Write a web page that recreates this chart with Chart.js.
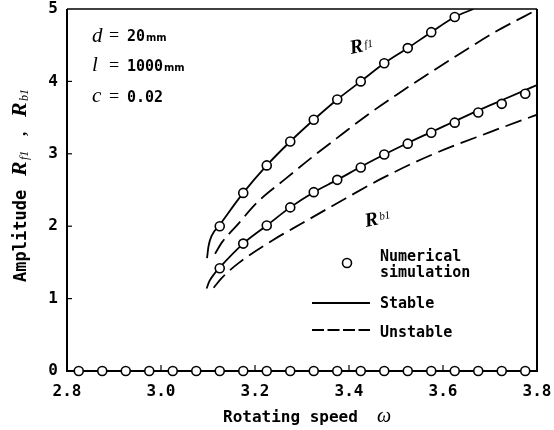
<!DOCTYPE html>
<html>
<head>
<meta charset="utf-8">
<script src="https://cdn.jsdelivr.net/npm/chart.js@4.4.0/dist/chart.umd.min.js"></script>
<style>
  html, body { margin: 0; padding: 0; background: #fff; }
</style>
</head>
<body>
<canvas id="chart" width="554" height="430"></canvas>
<script>
// Puntos de simulacion sobre el eje (amplitud cero)
const zeroSpeed = [2.825, 2.875, 2.925, 2.975, 3.025, 3.075, 3.125, 3.175, 3.225, 3.275,
                   3.325, 3.375, 3.425, 3.475, 3.525, 3.575, 3.625, 3.675, 3.725, 3.775];
const zeroAmp = [0, 0, 0, 0, 0, 0, 0, 0, 0, 0, 0, 0, 0, 0, 0, 0, 0, 0, 0, 0];

// Simulacion numerica R_f1 y R_b1
const rf1SimSpeed = [3.125, 3.175, 3.225, 3.275, 3.325, 3.375, 3.425, 3.475, 3.525, 3.575, 3.625];
const rf1SimAmp = [2.0, 2.46, 2.84, 3.17, 3.47, 3.75, 4.0, 4.25, 4.46, 4.68, 4.89];
const rb1SimSpeed = [3.125, 3.175, 3.225, 3.275, 3.325, 3.375, 3.425, 3.475, 3.525, 3.575,
                     3.625, 3.675, 3.725, 3.775];
const rb1SimAmp = [1.42, 1.76, 2.01, 2.26, 2.47, 2.64, 2.81, 2.99, 3.14, 3.29, 3.43, 3.57, 3.69, 3.83];

// Soluciones estables (linea continua)
const rf1StableSpeed = [3.098, 3.101, 3.108, 3.125, 3.175, 3.225, 3.275, 3.325, 3.375, 3.425,
                        3.475, 3.525, 3.575, 3.625, 3.665];
const rf1StableAmp = [1.56, 1.72, 1.87, 2.02, 2.46, 2.84, 3.17, 3.47, 3.75, 4.0,
                      4.25, 4.46, 4.68, 4.89, 5.0];
const rb1StableSpeed = [3.097, 3.103, 3.112, 3.125, 3.175, 3.225, 3.275, 3.325, 3.375, 3.425,
                        3.475, 3.525, 3.575, 3.625, 3.675, 3.725, 3.775, 3.8];
const rb1StableAmp = [1.14, 1.24, 1.33, 1.43, 1.76, 2.01, 2.26, 2.47, 2.64, 2.82,
                      2.99, 3.15, 3.30, 3.45, 3.60, 3.74, 3.88, 3.95];

// Soluciones inestables (linea discontinua)
const rf1UnstableSpeed = [3.115, 3.13, 3.16, 3.205, 3.266, 3.321, 3.385, 3.44, 3.5, 3.57, 3.64, 3.71, 3.8];
const rf1UnstableAmp = [1.62, 1.78, 2.0, 2.33, 2.66, 2.95, 3.27, 3.54, 3.81, 4.11, 4.40, 4.68, 4.99];
const rb1UnstableSpeed = [3.112, 3.13, 3.167, 3.236, 3.3, 3.37, 3.47, 3.57, 3.7, 3.8];
const rb1UnstableAmp = [1.15, 1.29, 1.50, 1.80, 2.04, 2.30, 2.66, 2.97, 3.30, 3.54];

// Marcas de los ejes
const xTicks = [2.8, 3.0, 3.2, 3.4, 3.6, 3.8];
const yTicks = [0, 1, 2, 3, 4, 5];

const MONO = '"DejaVu Sans Mono", monospace';
const SERIF = '"Liberation Serif", serif';
const COND = '"DejaVu Sans Condensed", "DejaVu Sans", sans-serif';

function toPoints(xs, ys) {
    return xs.map((x, i) => ({ x: x, y: ys[i] }));
}

function simSet(xs, ys) {
    return {
        data: toPoints(xs, ys),
        showLine: false,
        pointRadius: 4.5,
        pointBackgroundColor: '#fff',
        pointBorderColor: '#000',
        pointBorderWidth: 1.6,
        clip: false
    };
}

function curveSet(xs, ys, dashed) {
    return {
        data: toPoints(xs, ys),
        showLine: true,
        pointRadius: 0,
        borderColor: '#000',
        borderWidth: 1.8,
        borderDash: dashed ? [17, 7] : [],
        cubicInterpolationMode: 'monotone',
        fill: false
    };
}

// Texto con varias fuentes en una sola linea
function drawRuns(ctx, x, y, runs) {
    runs.forEach(r => {
        ctx.font = r.font;
        ctx.fillText(r.text, x + (r.dx || 0), y + (r.dy || 0));
    });
}

// quitar el relleno automatico que Chart.js reserva para las etiquetas
function noPad(s) {
    s.paddingTop = 0;
    s.paddingBottom = 0;
    s.paddingLeft = 0;
    s.paddingRight = 0;
}

const framePlugin = {
    id: 'frame',
    beforeDatasetsDraw(chart) {
        const { ctx, chartArea: a, scales } = chart;
        ctx.save();
        ctx.strokeStyle = '#000';
        ctx.lineWidth = 2;
        ctx.beginPath();
        ctx.moveTo(a.left, a.top);
        ctx.lineTo(a.left, a.bottom);
        ctx.lineTo(a.right, a.bottom);
        ctx.lineTo(a.right, a.top);
        ctx.stroke();
        ctx.lineWidth = 1.5;
        ctx.beginPath();
        ctx.moveTo(a.left, a.top);
        ctx.lineTo(a.right, a.top);
        ctx.stroke();

        // marcas interiores
        ctx.lineWidth = 1.2;
        xTicks.slice(1, -1).forEach(v => {
            const px = scales.x.getPixelForValue(v);
            ctx.beginPath();
            ctx.moveTo(px, a.bottom);
            ctx.lineTo(px, a.bottom - 6);
            ctx.stroke();
        });
        yTicks.slice(1, -1).forEach(v => {
            const py = scales.y.getPixelForValue(v);
            ctx.beginPath();
            ctx.moveTo(a.left, py);
            ctx.lineTo(a.left + 5, py);
            ctx.stroke();
        });
        ctx.restore();
    },
    afterDraw(chart) {
        const ctx = chart.ctx;
        ctx.save();
        ctx.fillStyle = '#000';
        ctx.textBaseline = 'alphabetic';
        ctx.textAlign = 'left';

        // parametros
        drawRuns(ctx, 92, 42, [
            { text: 'd', font: 'italic 21px ' + SERIF },
            { text: '=', font: '18px ' + SERIF, dx: 17, dy: -1 },
            { text: '20', font: 'bold 15px ' + MONO, dx: 35, dy: -1 },
            { text: 'mm', font: 'bold 11px ' + COND, dx: 54, dy: -1 }
        ]);
        drawRuns(ctx, 92, 71, [
            { text: 'l', font: 'italic 21px ' + SERIF },
            { text: '=', font: '18px ' + SERIF, dx: 17 },
            { text: '1000', font: 'bold 15px ' + MONO, dx: 35 },
            { text: 'mm', font: 'bold 11px ' + COND, dx: 72 }
        ]);
        drawRuns(ctx, 92, 102, [
            { text: 'c', font: 'italic 21px ' + SERIF },
            { text: '=', font: '18px ' + SERIF, dx: 17 },
            { text: '0.02', font: 'bold 15px ' + MONO, dx: 35 }
        ]);

        // etiquetas de curvas
        ctx.save();
        ctx.translate(351, 54);
        ctx.rotate(-0.2);
        drawRuns(ctx, 0, 0, [
            { text: 'R', font: 'bold italic 20px ' + SERIF },
            { text: 'f1', font: 'italic 11px ' + SERIF, dx: 15, dy: -3 }
        ]);
        ctx.restore();
        ctx.save();
        ctx.translate(366, 227);
        ctx.rotate(-0.2);
        drawRuns(ctx, 0, 0, [
            { text: 'R', font: 'bold italic 20px ' + SERIF },
            { text: 'b1', font: 'italic 11px ' + SERIF, dx: 15, dy: -4 }
        ]);
        ctx.restore();

        // leyenda
        ctx.strokeStyle = '#000';
        ctx.lineWidth = 1.6;
        ctx.fillStyle = '#fff';
        ctx.beginPath();
        ctx.arc(347, 263, 4.5, 0, Math.PI * 2);
        ctx.fill();
        ctx.stroke();
        ctx.fillStyle = '#000';
        ctx.lineWidth = 1.8;
        ctx.beginPath();
        ctx.moveTo(312, 303);
        ctx.lineTo(370, 303);
        ctx.stroke();
        ctx.setLineDash([12, 3.5]);
        ctx.beginPath();
        ctx.moveTo(312, 330);
        ctx.lineTo(370, 330);
        ctx.stroke();
        ctx.setLineDash([]);
        ctx.font = 'bold 15px ' + MONO;
        ctx.fillText('Numerical', 380, 261);
        ctx.fillText('simulation', 380, 277);
        ctx.fillText('Stable', 380, 308);
        ctx.fillText('Unstable', 380, 337);

        // titulo eje x
        drawRuns(ctx, 223, 422, [
            { text: 'Rotating speed', font: 'bold 16px ' + MONO },
            { text: 'ω', font: 'italic 20px ' + SERIF, dx: 154 }
        ]);

        // titulo eje y
        ctx.save();
        ctx.translate(26, 282);
        ctx.rotate(-Math.PI / 2);
        drawRuns(ctx, 0, 0, [
            { text: 'Amplitude', font: 'bold 17px ' + MONO },
            { text: 'R', font: 'bold italic 22px ' + SERIF, dx: 106 },
            { text: 'f1', font: 'italic 12px ' + SERIF, dx: 122, dy: 2 },
            { text: ',', font: 'bold 17px ' + SERIF, dx: 146 },
            { text: 'R', font: 'bold italic 22px ' + SERIF, dx: 165 },
            { text: 'b1', font: 'italic 12px ' + SERIF, dx: 181, dy: 2 }
        ]);
        ctx.restore();

        ctx.restore();
    }
};

const ctx = document.getElementById('chart').getContext('2d');

const chart = new Chart(ctx, {
    type: 'scatter',
    data: {
        datasets: [
            simSet(zeroSpeed, zeroAmp),
            simSet(rf1SimSpeed, rf1SimAmp),
            simSet(rb1SimSpeed, rb1SimAmp),
            curveSet(rf1StableSpeed, rf1StableAmp, false),
            curveSet(rb1StableSpeed, rb1StableAmp, false),
            curveSet(rf1UnstableSpeed, rf1UnstableAmp, true),
            curveSet(rb1UnstableSpeed, rb1UnstableAmp, true)
        ]
    },
    options: {
        responsive: false,
        animation: false,
        layout: { padding: { top: 9, right: 17, left: 0, bottom: 0 } },
        plugins: {
            legend: { display: false },
            tooltip: { enabled: false }
        },
        scales: {
            x: {
                type: 'linear',
                min: 2.8,
                max: 3.8,
                afterFit: s => { s.height = 59; noPad(s); },
                afterBuildTicks: s => { s.ticks = xTicks.map(v => ({ value: v })); },
                ticks: {
                    callback: v => v.toFixed(1),
                    font: { family: MONO, size: 16, weight: 'bold', lineHeight: 1 },
                    color: '#000',
                    padding: 13,
                    maxRotation: 0,
                    autoSkip: false
                },
                grid: { display: false, drawTicks: false },
                border: { display: false }
            },
            y: {
                min: 0,
                max: 5,
                afterFit: s => { s.width = 67; noPad(s); },
                afterBuildTicks: s => { s.ticks = yTicks.map(v => ({ value: v })); },
                ticks: {
                    font: { family: MONO, size: 16, weight: 'bold', lineHeight: 1 },
                    color: '#000',
                    padding: 9
                },
                grid: { display: false, drawTicks: false },
                border: { display: false }
            }
        }
    },
    plugins: [framePlugin]
});
</script>
</body>
</html>
